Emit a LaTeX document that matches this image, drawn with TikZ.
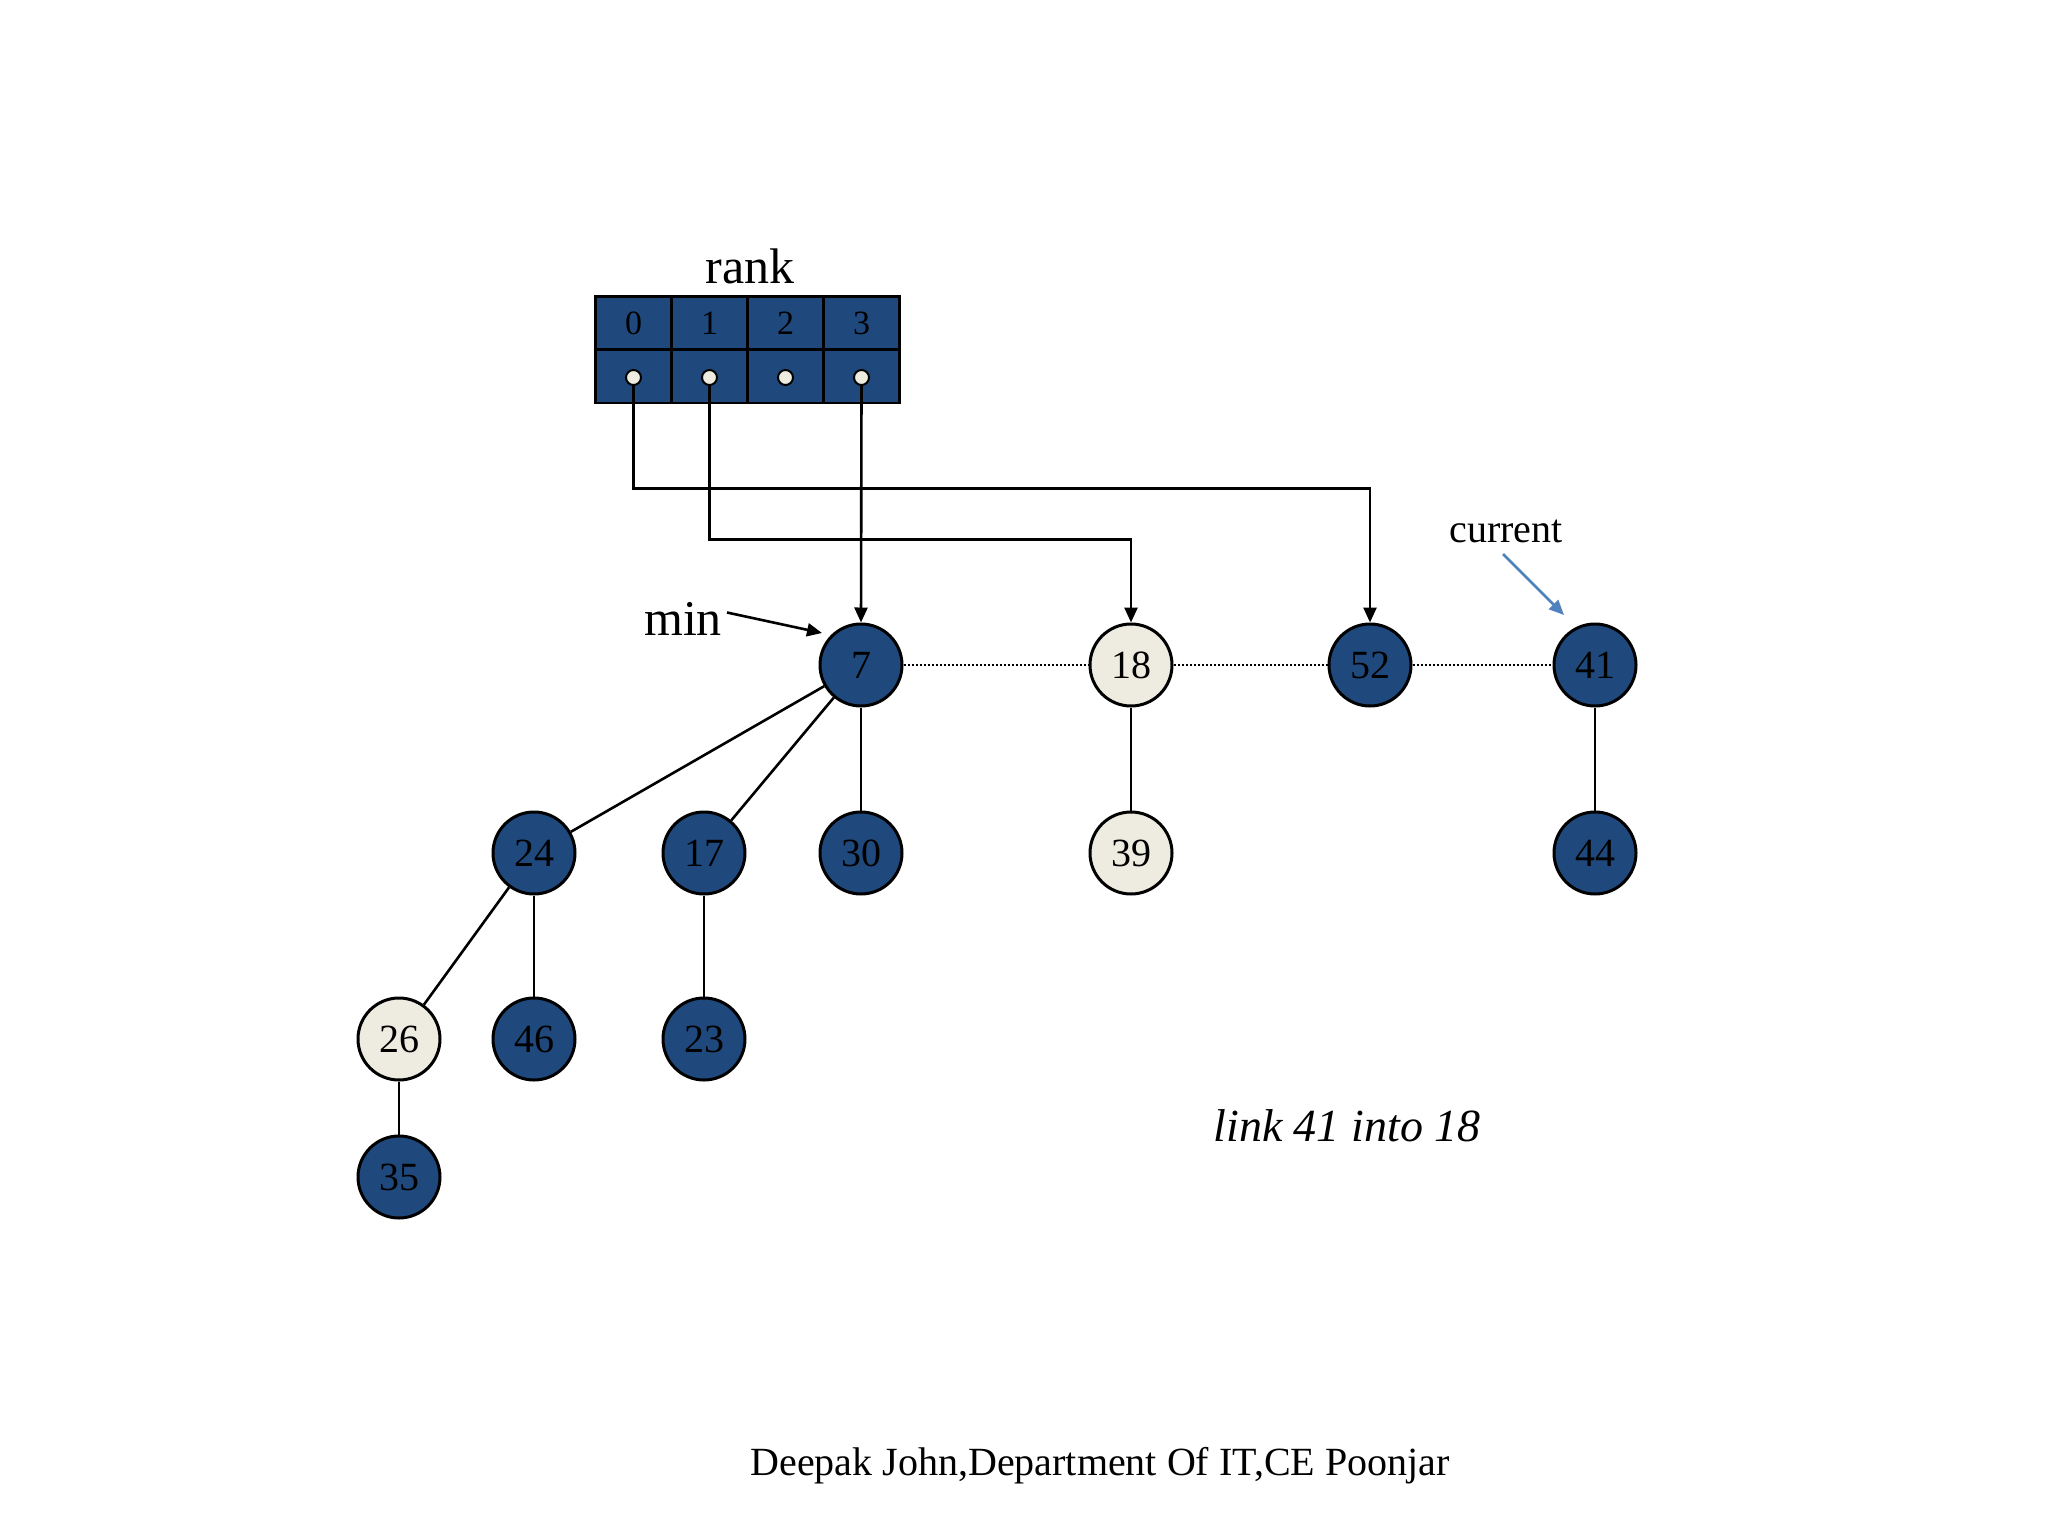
\documentclass[tikz,border=0pt]{standalone}
\usepackage{fontspec}
\setmainfont{Liberation Serif}
\usetikzlibrary{arrows.meta}
\definecolor{nblue}{RGB}{31,73,125}
\definecolor{nlight}{RGB}{238,236,225}
\definecolor{cblue}{RGB}{79,129,189}
\tikzset{
  heapnode/.style={circle,draw=black,line width=3pt,minimum size=82pt,inner sep=0pt,font=\fontsize{40}{40}\selectfont},
  dark/.style={heapnode,fill=nblue},
  light/.style={heapnode,fill=nlight},
  edge/.style={line width=2.6pt},
  ptr/.style={line width=2.6pt,-{Triangle[length=15pt,width=13pt]}},
  cell/.style={rectangle,draw=black,line width=2.6pt,fill=nblue,minimum width=76pt,minimum height=53pt,inner sep=0pt,font=\fontsize{34}{34}\selectfont},
  dot/.style={circle,draw=black,line width=2pt,fill=nlight,minimum size=15pt,inner sep=0pt},
}
\begin{document}
\begin{tikzpicture}[x=1pt,y=-1pt]
\useasboundingbox (0,0) rectangle (2048,1536);
% rank table
\foreach \i/\x in {0/633.5,1/709.5,2/785.5,3/861.5}{
  \node[cell] (h\i) at (\x,323) {\i};
  \node[cell] (c\i) at (\x,376.5) {};
  \node[dot] (d\i) at (\x,377.5) {};
}
\node[font=\fontsize{50}{50}\selectfont] (rank) at (750,266) {rank};
% nodes
\node[dark]  (n7)  at (861,665) {7};
\node[light] (n18) at (1131,665) {18};
\node[dark]  (n52) at (1370,665) {52};
\node[dark]  (n41) at (1595,665) {41};
\node[dark]  (n24) at (534,853) {24};
\node[dark]  (n17) at (704,853) {17};
\node[dark]  (n30) at (861,853) {30};
\node[light] (n39) at (1131,853) {39};
\node[dark]  (n44) at (1595,853) {44};
\node[light] (n26) at (399,1039) {26};
\node[dark]  (n46) at (534,1039) {46};
\node[dark]  (n23) at (704,1039) {23};
\node[dark]  (n35) at (399,1177) {35};
% root list
\draw[line width=2pt,dotted] (n7) -- (n18);
\draw[line width=2pt,dotted] (n18) -- (n52);
\draw[line width=2pt,dotted] (n52) -- (n41);
% tree edges
\draw[edge] (n7) -- (n24);
\draw[edge] (n7) -- (n17);
\draw[edge] (n7) -- (n30);
\draw[edge] (n18) -- (n39);
\draw[edge] (n41) -- (n44);
\draw[edge] (n24) -- (n26);
\draw[edge] (n24) -- (n46);
\draw[edge] (n17) -- (n23);
\draw[edge] (n26) -- (n35);
% rank pointers
\draw[ptr] (d0.south) |- (1370,488.5) -- (n52.north);
\draw[ptr] (d1.south) |- (1131,539.5) -- (n18.north);
\draw[ptr] (d3.south) -- (n7.north);
% min label
\node[font=\fontsize{50}{50}\selectfont] (minlbl) at (683,619) {min};
\coordinate (mintip) at (822,633);
\draw[ptr] (727,612.5) -- (mintip);
% current label
\node[font=\fontsize{40}{40}\selectfont] (cur) at (1506,531) {current};
\coordinate (curtip) at (1564,615);
\draw[line width=2.6pt,cblue,-{Triangle[length=15pt,width=13pt]}] (1503,554) -- (curtip);
% captions
\node[font=\fontsize{46}{46}\selectfont\itshape] (cap) at (1347,1126) {link 41 into 18};
\node[font=\fontsize{40}{40}\selectfont] (foot) at (1100,1466) {Deepak John,Department Of IT,CE Poonjar};
\end{tikzpicture}
\end{document}
